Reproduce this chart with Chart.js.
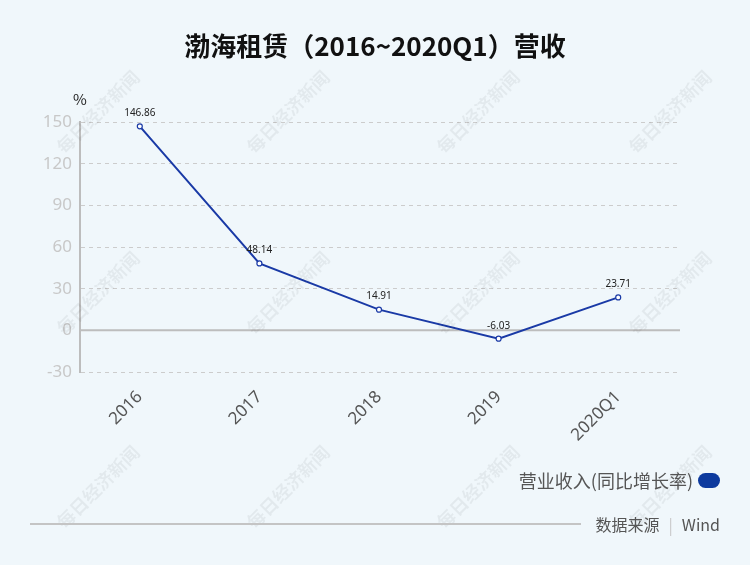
<!DOCTYPE html>
<html>
<head>
<meta charset="utf-8">
<script src="https://cdn.jsdelivr.net/npm/chart.js@4"></script>
<style>
  body { margin: 0; background: #f0f7fb; font-family: "Noto Sans CJK SC", "Noto Sans", sans-serif; }
  #wrap { position: relative; width: 750px; height: 565px; overflow: hidden; }
  #chart { position: absolute; left: 0; top: 0; }
  .title { position: absolute; left: 0; width: 750px; top: 26px; text-align: center; font-size: 26px; font-weight: bold; color: #111; }
  .unit { position: absolute; left: 73px; top: 88px; font-size: 15px; color: #222; }
  .legend { position: absolute; right: 30px; top: 467px; font-size: 18px; color: #555; display: flex; align-items: center; }
  .legend .pill { display: inline-block; width: 22px; height: 15px; border-radius: 8px; background: #0d3a9e; margin-left: 5px; }
  .foot-line { position: absolute; left: 30px; top: 523px; width: 551px; height: 2px; background: #c4c4c4; }
  .source { position: absolute; right: 30px; top: 512px; font-size: 16px; color: #555; }
  .source .sep { color: #c8c8c8; margin: 0 9px; }
</style>
</head>
<body>
<div id="wrap">
  <canvas id="chart" width="750" height="565"></canvas>
  <div class="title">渤海租赁（2016~2020Q1）营收</div>
  <div class="unit">%</div>
  <div class="legend"><span>营业收入(同比增长率)</span><span class="pill"></span></div>
  <div class="foot-line"></div>
  <div class="source">数据来源<span class="sep">|</span>Wind</div>
</div>
<script>
// 数据
const categories = ['2016', '2017', '2018', '2019', '2020Q1'];
const growthRate = [146.86, 48.14, 14.91, -6.03, 23.71];
const yTicks = [-30, 0, 30, 60, 90, 120, 150];

// 数值标签
const valueLabels = {
  id: 'valueLabels',
  afterDatasetsDraw(chart) {
    const ctx = chart.ctx;
    const meta = chart.getDatasetMeta(0);
    ctx.save();
    ctx.font = '10px "Noto Sans", sans-serif';
    ctx.fillStyle = '#222';
    ctx.textAlign = 'center';
    ctx.textBaseline = 'bottom';
    meta.data.forEach((pt, i) => {
      ctx.fillText(growthRate[i].toFixed(2), pt.x, pt.y - 8);
    });
    ctx.restore();
  }
};

// 水印
const watermark = {
  id: 'watermark',
  afterDraw(chart) {
    const ctx = chart.ctx;
    ctx.save();
    ctx.font = 'bold 18px "Noto Sans CJK SC", sans-serif';
    ctx.fillStyle = 'rgba(0,0,0,0.055)';
    ctx.textAlign = 'center';
    ctx.textBaseline = 'middle';
    [112, 293, 487].forEach(y => {
      [98, 288, 478, 670].forEach(x => {
        ctx.save();
        ctx.translate(x, y);
        ctx.rotate(-Math.PI / 4);
        ctx.fillText('每日经济新闻', 0, 0);
        ctx.restore();
      });
    });
    ctx.restore();
  }
};

// 零线
const zeroLine = {
  id: 'zeroLine',
  beforeDatasetsDraw(chart) {
    const { ctx, chartArea, scales } = chart;
    const y = scales.y.getPixelForValue(0);
    ctx.save();
    ctx.strokeStyle = '#bdbdbd';
    ctx.lineWidth = 2;
    ctx.beginPath();
    ctx.moveTo(chartArea.left, y);
    ctx.lineTo(chartArea.right + 2, y);
    ctx.stroke();
    ctx.restore();
  }
};

new Chart(document.getElementById('chart'), {
  type: 'line',
  data: {
    labels: categories,
    datasets: [{
      label: '营业收入(同比增长率)',
      data: growthRate,
      borderColor: '#1a3aa6',
      borderWidth: 2,
      tension: 0,
      pointRadius: 2.5,
      pointBackgroundColor: '#ffffff',
      pointBorderColor: '#1a3aa6',
      pointBorderWidth: 1.2
    }]
  },
  options: {
    responsive: false,
    animation: false,
    layout: { padding: { left: 0, right: 72, top: 122, bottom: 103 } },
    plugins: {
      legend: { display: false },
      tooltip: { enabled: false }
    },
    scales: {
      x: {
        offset: true,
        grid: { display: false },
        border: { display: false },
        afterFit: s => { s.height = 90; },
        ticks: {
          color: '#555',
          font: { size: 17, family: '"Noto Sans", sans-serif' },
          minRotation: 45,
          maxRotation: 45,
          padding: 7
        }
      },
      y: {
        min: -30,
        max: 150,
        afterFit: s => { s.width = 80; },
        afterBuildTicks: s => { s.ticks = yTicks.map(v => ({ value: v })); },
        grid: {
          drawTicks: false,
          color: ctx => ctx.tick && ctx.tick.value === 0 ? 'rgba(0,0,0,0)' : '#cccccc',
          lineWidth: 1
        },
        border: {
          display: true,
          color: '#bdbdbd',
          width: 2,
          dash: ctx => (ctx.type === 'tick' ? [4, 4] : [])
        },
        ticks: {
          color: '#c8c8c8',
          font: { size: 17, family: '"Noto Sans", sans-serif' },
          padding: 8
        }
      }
    }
  },
  plugins: [zeroLine, valueLabels, watermark]
});
</script>
</body>
</html>
